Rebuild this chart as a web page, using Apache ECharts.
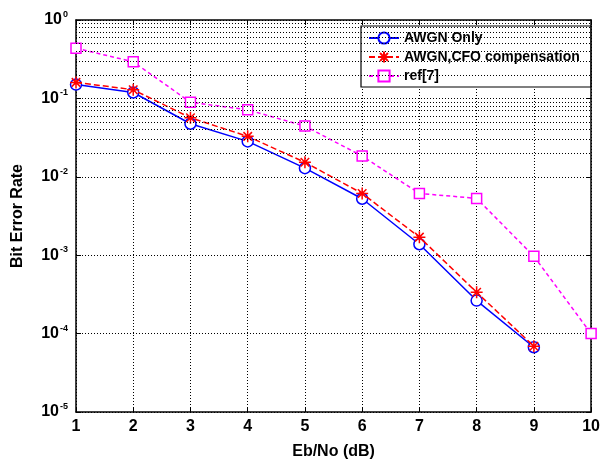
<!DOCTYPE html>
<html><head><meta charset="utf-8">
<script src="https://cdn.jsdelivr.net/npm/echarts@6/dist/echarts.min.js"></script>
<style>html,body{margin:0;padding:0;background:#fff}#c{width:603px;height:465px}</style>
</head><body><div id="c"></div>
<script>
const ebno = [1,2,3,4,5,6,7,8,9,10];
const awgnOnly = [0.150,0.119,0.0475,0.0283,0.0129,0.00525,0.00138,0.000264,0.000067];
const awgnCfo = [0.160,0.129,0.0566,0.0328,0.0153,0.00614,0.0017,0.000336,0.000069];
const ref7 = [0.437,0.293,0.0893,0.0715,0.0443,0.0184,0.00614,0.0053,0.00097,0.0001];
const seriesNames = ['AWGN Only','AWGN,CFO compensation','ref[7]'];
const decades = [1e-5,1e-4,1e-3,1e-2,1e-1];
const mantissas = [2,3,4,5,6,7,8,9];
const minorGrid = [];
decades.forEach(d => mantissas.forEach(m => minorGrid.push(+(d*m).toPrecision(3))));

const font = 'Liberation Sans, Arial, Helvetica, sans-serif';
const toPairs = arr => arr.map((v,i) => [ebno[i], v]);
const star = 'path://M0,-10L0,10M-10,0L10,0M-7.07,-7.07L7.07,7.07M-7.07,7.07L7.07,-7.07';

const chart = echarts.init(document.getElementById('c'), null, {renderer:'canvas'});
const yLabel = v => {
  const e = Math.round(Math.log10(v));
  return '{b|10}{s|' + e + '}';
};
chart.setOption({
  animation:false,
  backgroundColor:'#fff',
  grid:{left:76,right:6,top:20,bottom:52},
  legend:{
    left:361, top:26, orient:'vertical',
    padding:[5,11,4,7], itemGap:5, itemWidth:30, itemHeight:14,
    borderColor:'#000', borderWidth:1.2, backgroundColor:'#fff',
    textStyle:{fontFamily:font, fontWeight:'bold', fontSize:14, lineHeight:14, color:'#000'},
    data:seriesNames
  },
  xAxis:[{
    type:'value', min:1, max:10, interval:1,
    name:'Eb/No (dB)', nameLocation:'middle', nameGap:32,
    nameTextStyle:{fontFamily:font, fontWeight:'bold', fontSize:16, color:'#000'},
    axisLine:{lineStyle:{color:'#000', width:1.5}},
    axisTick:{inside:true, length:5, lineStyle:{color:'#000'}},
    axisLabel:{fontFamily:font, fontWeight:'bold', fontSize:16, color:'#000', margin:7},
    splitLine:{show:true, lineStyle:{color:'#000', type:[1,2], width:1}}
  },{
    type:'value', min:1, max:10, interval:1, position:'top',
    axisLine:{lineStyle:{color:'#000', width:1.5}},
    axisTick:{inside:true, length:5, lineStyle:{color:'#000'}},
    axisLabel:{show:false}, splitLine:{show:false}
  }],
  yAxis:[{
    type:'log', logBase:10, min:1e-5, max:1, interval:1,
    name:'Bit Error Rate', nameLocation:'middle', nameGap:50, nameRotate:90,
    nameTextStyle:{fontFamily:font, fontWeight:'bold', fontSize:16, color:'#000'},
    axisLine:{show:true, lineStyle:{color:'#000', width:1.5}},
    axisTick:{inside:true, length:5, lineStyle:{color:'#000'}},
    axisLabel:{formatter:yLabel, margin:8,
      rich:{b:{fontFamily:font, fontWeight:'bold', fontSize:16, color:'#000'},
            s:{fontFamily:font, fontWeight:'bold', fontSize:9, color:'#000', verticalAlign:'bottom', padding:[0,0,11,1]}}},
    splitLine:{show:true, lineStyle:{color:'#000', type:[1,2], width:1}}
  },{
    type:'log', logBase:10, min:1e-5, max:1, interval:1, position:'right',
    axisLine:{show:true, lineStyle:{color:'#000', width:1.5}},
    axisTick:{inside:true, length:5, lineStyle:{color:'#000'}},
    axisLabel:{show:false}, splitLine:{show:false}
  }],
  series:[
    {
      name:'gridMinor', type:'line', data:[], silent:true,
      markLine:{silent:true, symbol:['none','none'], label:{show:false},
        lineStyle:{color:'#000', type:[1,2], width:1},
        data:minorGrid.map(v => ({yAxis:v}))}
    },
    {
      name:seriesNames[0], type:'line', data:toPairs(awgnOnly),
      symbol:'circle', symbolSize:11, showAllSymbol:true,
      lineStyle:{color:'#0000ff', width:1.5, type:'solid'},
      itemStyle:{color:'#fff', borderColor:'#0000ff', borderWidth:1.5},
      z:3
    },
    {
      name:seriesNames[1], type:'line', data:toPairs(awgnCfo),
      symbol:star, symbolSize:12,
      lineStyle:{color:'#ff0000', width:1.5, type:[6,3]},
      itemStyle:{color:'#ff0000', borderColor:'#ff0000', borderWidth:1.5},
      z:4
    },
    {
      name:seriesNames[2], type:'line', data:toPairs(ref7),
      symbol:'rect', symbolSize:10,
      lineStyle:{color:'#ff00ff', width:1.5, type:[4,3]},
      itemStyle:{color:'#fff', borderColor:'#ff00ff', borderWidth:1.5},
      z:2
    }
  ]
});
</script></body></html>
